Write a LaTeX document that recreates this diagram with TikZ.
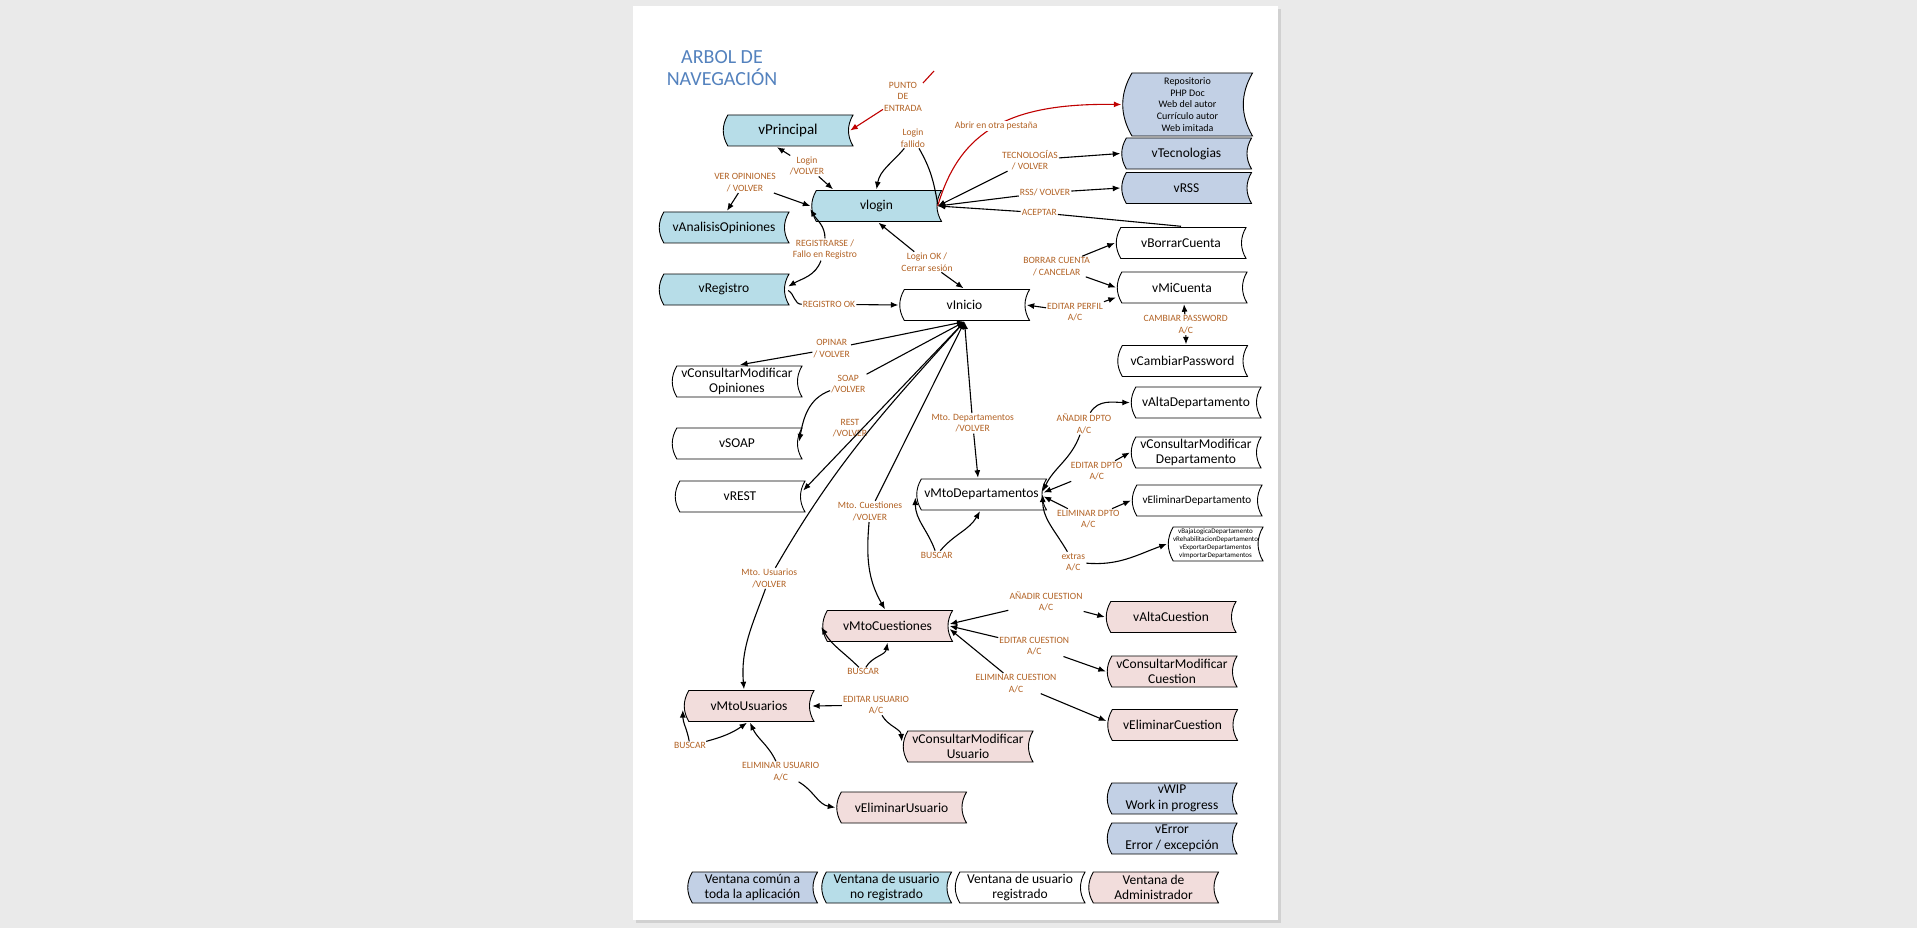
\documentclass[tikz,border=0pt]{standalone}
\usepackage{fontspec}
\setmainfont{Carlito}
\usetikzlibrary{arrows.meta,calc}
\definecolor{fondo}{RGB}{234,234,234}
\definecolor{comun}{RGB}{194,208,229}
\definecolor{noreg}{RGB}{183,221,232}
\definecolor{admin}{RGB}{242,221,220}
\definecolor{naranja}{RGB}{178,98,36}
\definecolor{rojo}{RGB}{192,0,0}
\definecolor{azultitulo}{RGB}{84,130,190}
\newcommand\fnodo{\fontsize{13.5}{15.6}\selectfont}
\newcommand\fetiq{\fontsize{9.6}{11.6}\selectfont}
\begin{document}
\begin{tikzpicture}[x=1pt, y=1pt, >={Latex[length=7.5pt,width=6pt]},
  ventana/.style={rectangle, inner sep=0pt, minimum width=132, minimum height=33, align=center, font=\fnodo,
    path picture={\path[draw=black, fill=#1, line width=.9pt] let \p1=(path picture bounding box.south west), \p2=(path picture bounding box.north east), \n1={0.145*(\y2-\y1)+1} in
      (\x1+\n1,\y2-1) -- (\x2-1,\y2-1) to[bend right=30] (\x2-1,\y1+1) -- (\x1+\n1,\y1+1) to[bend left=30] (\x1+\n1,\y2-1) -- cycle;}},
  ventana/.default=white,
  etiqueta/.style={font=\fetiq, text=naranja, align=center, inner sep=1pt},
  titulo/.style={font=\fontsize{20}{22.6}\selectfont, text=azultitulo, align=center},
  linea/.style={line width=1.1pt},
  simple/.style={->, line width=1.1pt},
  doble/.style={<->, line width=1.1pt},
  roja/.style={->, rojo, line width=1.1pt}]

\fill[fondo] (0,0) rectangle (1917,-928);
\fill[black!18] (636,-9) rectangle (1281,-923);
\fill[white] (633,-6) rectangle (1278,-920);

\node[titulo] (titulo) at (722,-68) {ARBOL DE\\NAVEGACIÓN};

\node[ventana=noreg, font=\fontsize{15}{17}\selectfont] (vPrincipal) at (788,-130.5) {vPrincipal};
\node[ventana=noreg] (vlogin) at (876.5,-206) {vlogin};
\node[ventana=noreg] (vAnalisisOpiniones) at (724,-227.5) {vAnalisisOpiniones};
\node[ventana=noreg] (vRegistro) at (724,-289.5) {vRegistro};
\node[ventana] (vInicio) at (964.5,-305) {vInicio};
\node[ventana] (vBorrarCuenta) at (1181,-243) {vBorrarCuenta};
\node[ventana] (vMiCuenta) at (1182,-287.5) {vMiCuenta};
\node[ventana] (vCambiarPassword) at (1182.5,-361) {vCambiarPassword};
\node[ventana=comun, minimum height=65, font=\fontsize{10}{11.8}\selectfont] (externos) at (1187.5,-104.5) {Repositorio\\PHP Doc\\Web del autor\\Currículo autor\\Web imitada};
\node[ventana=comun] (vTecnologias) at (1186.5,-153.5) {vTecnologias};
\node[ventana=comun] (vRSS) at (1186.5,-188) {vRSS};
\node[ventana] (vConsultarModificarOpiniones) at (737,-381.5) {vConsultarModificar\\Opiniones};
\node[ventana] (vSOAP) at (737,-443.5) {vSOAP};
\node[ventana] (vREST) at (740,-496.5) {vREST};
\node[ventana] (vMtoDepartamentos) at (981.5,-494.5) {vMtoDepartamentos};
\node[ventana] (vAltaDepartamento) at (1196,-402.5) {vAltaDepartamento};
\node[ventana] (vConsultarModificarDepartamento) at (1196,-452.5) {vConsultarModificar\\Departamento};
\node[ventana, font=\fontsize{11.2}{13}\selectfont] (vEliminarDepartamento) at (1197,-500.5) {vEliminarDepartamento};
\node[ventana, minimum width=97, minimum height=36, font=\fontsize{7}{7.9}\selectfont] (vExtrasDepartamento) at (1215.5,-544) {vBajaLogicaDepartamento\\vRehabilitacionDepartamento\\vExportarDepartamentos\\vImportarDepartamentos};
\node[ventana=admin] (vMtoCuestiones) at (887.5,-626) {vMtoCuestiones};
\node[ventana=admin] (vAltaCuestion) at (1171,-617) {vAltaCuestion};
\node[ventana=admin] (vConsultarModificarCuestion) at (1172,-671.5) {vConsultarModificar\\Cuestion};
\node[ventana=admin] (vEliminarCuestion) at (1172.5,-725) {vEliminarCuestion};
\node[ventana=admin] (vMtoUsuarios) at (749,-706) {vMtoUsuarios};
\node[ventana=admin] (vConsultarModificarUsuario) at (968,-746.5) {vConsultarModificar\\Usuario};
\node[ventana=admin] (vEliminarUsuario) at (901.5,-807.5) {vEliminarUsuario};
\node[ventana=comun] (vWIP) at (1172,-798.5) {vWIP\\Work in progress};
\node[ventana=comun] (vError) at (1172,-838.5) {vError\\Error / excepción};
\foreach \c/\x/\t [count=\i] in {comun/752.5/{Ventana común a\\toda la aplicación}, noreg/886.5/{Ventana de usuario\\no registrado}, white/1020/{Ventana de usuario\\registrado}, admin/1153.5/{Ventana de\\Administrador}}
  \node[ventana=\c] (leyenda\i) at (\x,-887.5) {\t};

\node[etiqueta] (lPunto) at (903,-96.5) {PUNTO\\DE\\ENTRADA};
\node[etiqueta] (lFallido) at (913,-138) {Login\\fallido};
\node[etiqueta] (lLoginVolver) at (807,-166) {Login\\/VOLVER};
\node[etiqueta] (lVerOpiniones) at (745,-182.7) {VER OPINIONES\\/ VOLVER};
\node[etiqueta] (lRegistrarse) at (825,-249.5) {REGISTRARSE /\\Fallo en Registro};
\node[etiqueta] (lRegistroOk) at (829,-304.3) {REGISTRO OK};
\node[etiqueta] (lLoginOk) at (927,-262) {Login OK /\\Cerrar sesión};
\node[etiqueta] (lTecnologias) at (1030,-160) {TECNOLOGÍAS\\/ VOLVER};
\node[etiqueta] (lRss) at (1045,-192.7) {RSS/ VOLVER};
\node[etiqueta] (lAceptar) at (1039.3,-212.7) {ACEPTAR};
\node[etiqueta] (lBorrar) at (1056.7,-266.5) {BORRAR CUENTA\\/ CANCELAR};
\node[etiqueta] (lPerfil) at (1075,-312) {EDITAR PERFIL\\A/C};
\node[etiqueta] (lPassword) at (1185.7,-324.7) {CAMBIAR PASSWORD\\A/C};
\node[etiqueta] (lOpinar) at (831.7,-348.8) {OPINAR\\/ VOLVER};
\node[etiqueta] (lSoap) at (848.3,-384) {SOAP\\/VOLVER};
\node[etiqueta] (lRest) at (850,-428) {REST\\/VOLVER};
\node[etiqueta] (lDeptos) at (972.7,-423.3) {Mto. Departamentos\\/VOLVER};
\node[etiqueta] (lCuestiones) at (870,-511.5) {Mto. Cuestiones\\/VOLVER};
\node[etiqueta] (lUsuarios) at (769.3,-578.3) {Mto. Usuarios\\/VOLVER};
\node[etiqueta] (lAnadirD) at (1084,-423.7) {AÑADIR DPTO\\A/C};
\node[etiqueta] (lEditarD) at (1096.7,-471) {EDITAR DPTO\\A/C};
\node[etiqueta] (lEliminarD) at (1088.3,-519) {ELIMINAR DPTO\\A/C};
\node[etiqueta] (lExtras) at (1073.3,-562) {extras\\A/C};
\node[etiqueta] (lBuscarD) at (936.7,-555) {BUSCAR};
\node[etiqueta] (lAnadirC) at (1046,-601.5) {AÑADIR CUESTION\\A/C};
\node[etiqueta] (lEditarC) at (1034.3,-646.2) {EDITAR CUESTION\\A/C};
\node[etiqueta] (lEliminarC) at (1016,-683.3) {ELIMINAR CUESTION\\A/C};
\node[etiqueta] (lBuscarC) at (863.3,-671.7) {BUSCAR};
\node[etiqueta] (lEditarU) at (876,-705) {EDITAR USUARIO\\A/C};
\node[etiqueta] (lBuscarU) at (690,-745.7) {BUSCAR};
\node[etiqueta] (lEliminarU) at (780.7,-771.5) {ELIMINAR USUARIO\\A/C};

\coordinate (trazoA) at (923,-83);
\coordinate (trazoB) at (934,-71);
\draw[rojo, line width=1.1pt] (trazoA) -- (trazoB);
\draw[roja] (lPunto) -- ([xshift=-4]vPrincipal.east);
\draw[roja] ([xshift=-5]vlogin.east) .. controls (960,-130) and (1010,-103) .. node[etiqueta, fill=white, pos=.5] (lAbrir) {Abrir en otra pestaña} (externos.west);

\draw[simple] (lLoginVolver) -- ([xshift=-11]vPrincipal.south);
\draw[simple] (lLoginVolver) -- ([xshift=-43.5]vlogin.north);
\draw[simple] (lVerOpiniones) -- (vlogin.west);
\draw[simple] (lVerOpiniones) -- ([xshift=3]vAnalisisOpiniones.north);
\draw[simple] (lRegistrarse) to[out=90,in=-60] ([yshift=-3]vlogin.west);
\draw[simple] (lRegistrarse) to[out=250,in=30] ([xshift=-2,yshift=3]vRegistro.east);
\draw[linea] ([xshift=-2,yshift=-1]vRegistro.east) to[out=-30,in=180] (lRegistroOk);
\draw[simple] (lRegistroOk) -- (vInicio.west);
\draw[simple] (lLoginOk) -- ([xshift=2]vlogin.south);
\draw[simple] (lLoginOk) -- ([xshift=-1]vInicio.north);
\draw[linea] ([xshift=-5,yshift=2]vlogin.east) to[out=100,in=-60] (lFallido);
\draw[simple] (lFallido) to[out=230,in=80] (vlogin.north);
\foreach \l/\d in {lTecnologias/vTecnologias, lRss/vRSS}{
  \draw[simple] (\l) -- ([xshift=-5]vlogin.east);
  \draw[simple] (\l) -- (\d.west);
}
\draw[linea] (vBorrarCuenta.north) -- (lAceptar);
\draw[simple] (lAceptar) -- ([xshift=-5]vlogin.east);

\draw[simple] (lPerfil) -- ([xshift=-4]vInicio.east);
\draw[simple] (lPerfil) -- ([yshift=-10]vMiCuenta.west);
\draw[simple] (lBorrar) -- (vMiCuenta.west);
\draw[simple] (lBorrar) -- (vBorrarCuenta.west);
\draw[simple] (lPassword) -- ([xshift=2]vMiCuenta.south);
\draw[simple] (lPassword) -- ([xshift=3.5]vCambiarPassword.north);

\foreach \l in {lOpinar, lSoap, lCuestiones, lDeptos}
  \draw[simple] (\l) -- (vInicio.south);
\draw[simple] (lUsuarios) to[out=60,in=228] (vInicio.south);
\draw[doble] (vInicio.south) -- ([xshift=-3,yshift=6]vREST.east);
\draw[simple] (lOpinar) -- ([xshift=3]vConsultarModificarOpiniones.north);
\draw[simple] (lSoap) to[out=200,in=80] ([xshift=-4,yshift=2]vSOAP.east);
\draw[simple] (lUsuarios) to[out=250,in=95] ([xshift=-5]vMtoUsuarios.north);
\draw[simple] (lCuestiones) to[out=265,in=120] ([xshift=-2.5]vMtoCuestiones.north);
\draw[simple] (lDeptos) -- ([xshift=-3.5]vMtoDepartamentos.north);

\draw[simple] (lBuscarD) to[out=110,in=-90] ([yshift=-3]vMtoDepartamentos.west);
\draw[simple] (lBuscarD) to[out=50,in=240] ([xshift=-1.5]vMtoDepartamentos.south);
\draw[simple] (lAnadirD) to[out=250,in=65] ([xshift=-5,yshift=3]vMtoDepartamentos.east);
\draw[simple] (lAnadirD) to[out=60,in=180] (vAltaDepartamento.west);
\foreach \l/\d/\s in {lEditarD/vConsultarModificarDepartamento/2, lEliminarD/vEliminarDepartamento/-2}{
  \draw[simple] (\l) -- ([xshift=-4,yshift=\s]vMtoDepartamentos.east);
  \draw[simple] (\l) -- (\d.west);
}
\draw[simple] (lExtras) to[out=120,in=-90] ([xshift=-5]vMtoDepartamentos.east);
\draw[simple] (lExtras) to[out=-5,in=200] (vExtrasDepartamento.west);

\draw[simple] (lBuscarC) to[out=135,in=-60] ([yshift=-1]vMtoCuestiones.west);
\draw[simple] (lBuscarC) to[out=60,in=-100] (vMtoCuestiones.south);
\foreach \l/\d/\s/\t in {lAnadirC/vAltaCuestion/2/0, lEditarC/vConsultarModificarCuestion/0/0, lEliminarC/vEliminarCuestion/-3/4}{
  \draw[simple] (\l) -- ([xshift=-4,yshift=\s]vMtoCuestiones.east);
  \draw[simple] (\l) -- ([yshift=\t]\d.west);
}

\draw[simple] (lBuscarU) to[out=100,in=-90] ([yshift=-4]vMtoUsuarios.west);
\draw[simple] (lBuscarU) to[out=15,in=215] ([xshift=-2]vMtoUsuarios.south);
\draw[simple] (lEditarU) -- ([xshift=-3]vMtoUsuarios.east);
\draw[simple] (lEditarU) to[out=-60,in=95] ([yshift=5]vConsultarModificarUsuario.west);
\draw[simple] (lEliminarU) to[out=115,in=-65] ([xshift=1]vMtoUsuarios.south);
\draw[simple] (lEliminarU) to[out=-30,in=170] (vEliminarUsuario.west);
\end{tikzpicture}
\end{document}
